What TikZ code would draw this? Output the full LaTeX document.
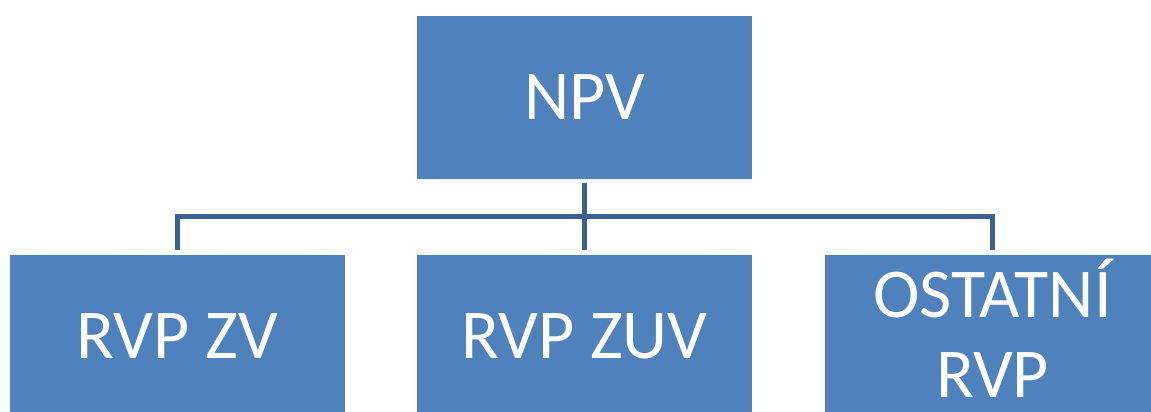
\documentclass[tikz,border=0pt]{standalone}
\usepackage{fontspec}
\setmainfont{Carlito}
\definecolor{boxblue}{HTML}{4F81BD}
\definecolor{linkblue}{HTML}{3B6192}

\begin{document}
\begin{tikzpicture}[x=0.5pt, y=0.5pt, line cap=butt, line join=miter,
  unitbox/.style={fill=boxblue, draw=none, inner sep=0pt,
    minimum width=335pt*0.5, minimum height=163pt*0.5,
    text=white, font=\fontsize{35}{40}\selectfont, align=center},
  link/.style={draw=linkblue, line width=2.5pt}]

% Picture frame (boxes at the edges are cut off)
\clip (0,0) rectangle (1151,412);

% Top box
\node[unitbox] (npv) at (584.5,314.5) {NPV};

% Bottom row
\node[unitbox] (zv)  at (177.5,75.5) {RVP ZV};
\node[unitbox] (zuv) at (584.5,75.5) {RVP ZUV};
\node[unitbox, text depth=8pt] (ost) at (992.5,75.5) {OSTATNÍ\\RVP};

% Connectors
\draw[link] ([shift={(0,-4)}]npv.south) -- ([shift={(0,5)}]zuv.north);
\draw[link] ([shift={(0,5)}]zv.north) |- ([shift={(0,-37)}]npv.south)
  -| ([shift={(0,5)}]ost.north);

\end{tikzpicture}
\end{document}
